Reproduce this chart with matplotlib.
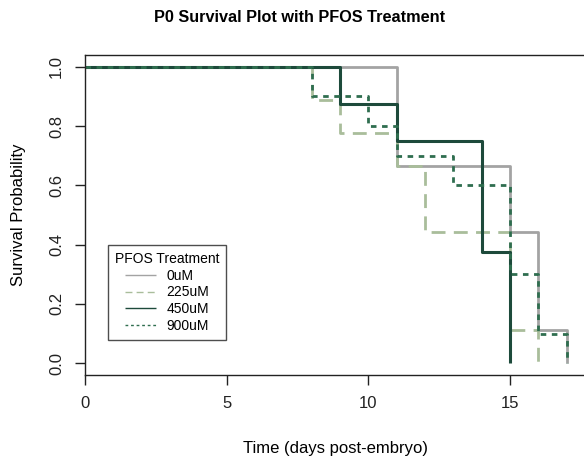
import numpy as np
import matplotlib.pyplot as plt
from matplotlib.lines import Line2D

plt.rcParams['font.family'] = ['Liberation Sans', 'DejaVu Sans']

# Kaplan-Meier steps
groups = ['0uM', '225uM', '450uM', '900uM']
times_0 = [0, 11, 15, 16, 17]
surv_0 = [1.0, 0.667, 0.444, 0.111, 0.0]
times_225 = [0, 8, 9, 11, 12, 15, 16]
surv_225 = [1.0, 0.889, 0.778, 0.667, 0.444, 0.111, 0.0]
times_450 = [0, 9, 11, 14, 15]
surv_450 = [1.0, 0.875, 0.75, 0.375, 0.0]
times_900 = [0, 8, 10, 11, 13, 15, 16, 17]
surv_900 = [1.0, 0.9, 0.8, 0.7, 0.6, 0.3, 0.1, 0.0]

colors = ['#a3a3a3', '#a9bd9b', '#1d4a3b', '#2f6e4f']
styles = [(0, ()), (0, (5, 3)), (0, ()), (0, (2, 2))]
widths = [2.0, 2.0, 2.2, 2.0]

fig = plt.figure(figsize=(5.84, 4.59), dpi=100)
ax = fig.add_axes([85 / 584, 1 - 375 / 459, 501 / 584, 320 / 459])

curves = [(times_0, surv_0), (times_225, surv_225), (times_450, surv_450), (times_900, surv_900)]
for (t, s), c, ls, lw in zip(curves, colors, styles, widths):
    ax.step(t, s, where='post', color=c, linestyle=ls, linewidth=lw)

ax.set_xlim(0, 17.68)
ax.set_ylim(-0.04, 1.04)
ax.set_xticks([0, 5, 10, 15])
ax.set_yticks([0.0, 0.2, 0.4, 0.6, 0.8, 1.0])
ax.set_yticklabels(['0.0', '0.2', '0.4', '0.6', '0.8', '1.0'], rotation=90, va='center')
ax.tick_params(length=7, width=1, labelsize=12, colors='#222222', pad=8)
for sp in ax.spines.values():
    sp.set_linewidth(1)
    sp.set_color('#222222')

ax.set_xlabel('Time (days post-embryo)', fontsize=12, labelpad=22)
ax.set_ylabel('Survival Probability', fontsize=12, labelpad=17)
fig.text(300 / 584, 1 - 17 / 459, 'P0 Survival Plot with PFOS Treatment',
         ha='center', va='center', fontsize=11.7, fontweight='bold')

handles = [Line2D([0], [0], color=c, linestyle=ls, linewidth=1) for c, ls in zip(colors, styles)]
leg = ax.legend(handles, groups, title='PFOS Treatment', loc='lower left',
                bbox_to_anchor=(23 / 501, 35 / 320), fontsize=10, title_fontsize=10,
                frameon=True, fancybox=False, edgecolor='#222222', handlelength=2.2,
                borderpad=0.5, labelspacing=0.2, borderaxespad=0)
leg.get_frame().set_linewidth(1)

fig.savefig('out.png', dpi=100)
